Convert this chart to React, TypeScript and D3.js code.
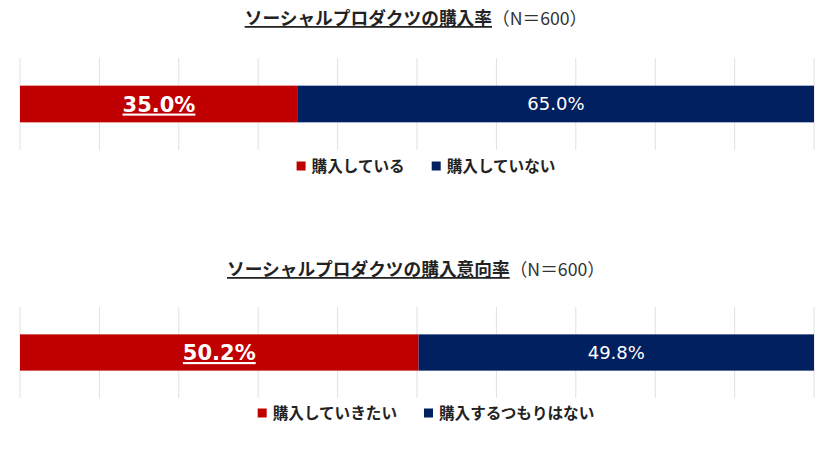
import { useEffect, useRef } from "react";
import * as d3 from "d3";

const titles = ["ソーシャルプロダクツの購入率", "ソーシャルプロダクツの購入意向率"];
const titleNote = "（N＝600）";
const categoriesA = ["購入している", "購入していない"];
const valuesA = [35.0, 65.0];
const categoriesB = ["購入していきたい", "購入するつもりはない"];
const valuesB = [50.2, 49.8];
const ticks = [0, 10, 20, 30, 40, 50, 60, 70, 80, 90, 100];
const colors = ["#C00000", "#002060"];

const width = 840;
const height = 473;
const font = "'Noto Sans CJK JP', 'DejaVu Sans', sans-serif";
const numFont = "'DejaVu Sans', sans-serif";

export default function App() {
  const svgRef = useRef<SVGSVGElement>(null);

  useEffect(() => {
    if (!svgRef.current) return;
    const svg = d3.select(svgRef.current);
    svg.selectAll("*").remove();

    const x = d3.scaleLinear().domain([0, 100]).range([20, 814]);

    const panels = [
      { title: titles[0], cats: categoriesA, vals: valuesA, titleY: 25, gridTop: 58, gridBottom: 150, legendY: 165 },
      { title: titles[1], cats: categoriesB, vals: valuesB, titleY: 276, gridTop: 307, gridBottom: 398, legendY: 412 },
    ];

    panels.forEach((p) => {
      const g = svg.append("g");

      // title
      const t = g
        .append("text")
        .attr("x", 416)
        .attr("y", p.titleY)
        .attr("text-anchor", "middle")
        .attr("font-family", font)
        .attr("font-size", 17.7)
        .attr("fill", "#222");
      t.append("tspan")
        .attr("font-weight", "bold")
        .attr("text-decoration", "underline")
        .text(p.title);
      t.append("tspan").attr("font-weight", "normal").attr("fill", "#333").text(titleNote);

      const y = d3
        .scaleBand<string>()
        .domain(["row"])
        .range([p.gridTop, p.gridBottom])
        .padding(0.43);

      // gridlines
      g.selectAll("line.grid")
        .data(ticks)
        .join("line")
        .attr("class", "grid")
        .attr("x1", (d) => x(d))
        .attr("x2", (d) => x(d))
        .attr("y1", p.gridTop)
        .attr("y2", p.gridBottom)
        .attr("stroke", "#e0e0e0")
        .attr("stroke-width", 1);

      // stacked segments
      const starts = d3.cumsum([0, ...p.vals]);
      const segs = p.vals.map((v, i) => ({ v, i, x0: starts[i], x1: starts[i] + v }));

      g.selectAll("rect.seg")
        .data(segs)
        .join("rect")
        .attr("class", "seg")
        .attr("x", (d) => x(d.x0))
        .attr("width", (d) => x(d.x1) - x(d.x0))
        .attr("y", y("row")!)
        .attr("height", y.bandwidth())
        .attr("fill", (d) => colors[d.i]);

      g.selectAll("text.lbl")
        .data(segs)
        .join("text")
        .attr("class", "lbl")
        .attr("x", (d) => (x(d.x0) + x(d.x1)) / 2)
        .attr("y", y("row")! + y.bandwidth() / 2)
        .attr("dy", "0.36em")
        .attr("text-anchor", "middle")
        .attr("font-family", numFont)
        .attr("font-size", (d) => (d.i === 0 ? 21 : 18))
        .attr("font-weight", (d) => (d.i === 0 ? "bold" : "normal"))
        .attr("text-decoration", (d) => (d.i === 0 ? "underline" : "none"))
        .attr("fill", "#fff")
        .text((d) => `${d.v.toFixed(1)}%`);

      // legend
      const legend = g.append("g");
      const items = legend
        .selectAll("g")
        .data(p.cats)
        .join("g");
      items
        .append("rect")
        .attr("width", 9)
        .attr("height", 9)
        .attr("y", -4.5)
        .attr("fill", (_, i) => colors[i]);
      items
        .append("text")
        .attr("x", 15)
        .attr("dy", "0.38em")
        .attr("font-family", font)
        .attr("font-size", 15.6)
        .attr("font-weight", "bold")
        .attr("fill", "#222")
        .text((d) => d);

      const gap = 27;
      let cx = 0;
      const offsets: number[] = [];
      items.each(function () {
        offsets.push(cx);
        const w = (this as SVGGElement).getBBox().width;
        cx += w + gap;
      });
      const total = cx - gap;
      const left = 426 - total / 2;
      items.attr("transform", (_, i) => `translate(${left + offsets[i]},${p.legendY + 1})`);
    });
  }, []);

  return (
    <svg
      ref={svgRef}
      width={width}
      height={height}
      style={{ position: "absolute", left: 0, top: 0, background: "#fff" }}
    />
  );
}
